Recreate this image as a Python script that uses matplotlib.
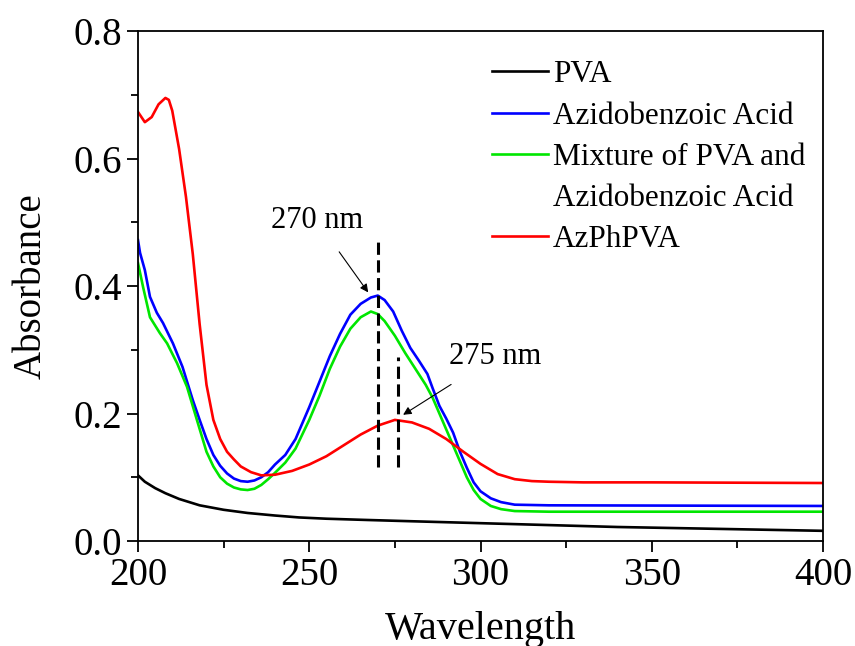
import matplotlib
matplotlib.use("Agg")
import matplotlib.pyplot as plt
from matplotlib.lines import Line2D
from matplotlib.ticker import MultipleLocator

plt.rcParams['font.family'] = ['Liberation Serif', 'DejaVu Serif']

# spectra (wavelength nm, absorbance)
pva_x = [200, 202, 205, 208, 212, 218, 225, 232, 240, 247, 255, 267, 280, 300, 320, 340, 360, 380, 400]
pva_y = [0.103, 0.093, 0.083, 0.075, 0.066, 0.056, 0.049, 0.044, 0.040, 0.037, 0.035, 0.033, 0.031,
         0.028, 0.025, 0.022, 0.020, 0.018, 0.016]

azb_x = [200, 200.6, 202, 203.5, 205.5, 207.3, 210.2, 213, 216, 218, 220, 222, 224, 226, 228, 230,
         232, 234, 236, 238, 240, 243, 246, 250, 253, 256, 259, 262, 265, 268, 270, 272, 274.5, 277,
         279.5, 282, 284.5, 286, 288, 290, 292, 294, 296, 298, 300, 303, 306, 310, 320, 400]
azb_y = [0.472, 0.452, 0.425, 0.383, 0.358, 0.342, 0.310, 0.273, 0.221, 0.19, 0.16, 0.135, 0.118,
         0.106, 0.098, 0.094, 0.093, 0.095, 0.100, 0.108, 0.120, 0.135, 0.160, 0.210, 0.250, 0.290,
         0.325, 0.355, 0.372, 0.382, 0.385, 0.378, 0.360, 0.330, 0.303, 0.283, 0.262, 0.240, 0.212,
         0.192, 0.170, 0.140, 0.115, 0.092, 0.078, 0.067, 0.061, 0.057, 0.056, 0.055]

mix_x = [200, 201.5, 203.5, 206.4, 208.5, 211.4, 214.3, 217.2, 220, 222, 224, 226, 228, 230, 232,
         234, 236, 238, 240, 243, 246, 250, 253, 256, 259, 262, 265, 268, 270, 272, 275, 278, 281,
         284, 286, 288, 290, 292, 294, 296, 298, 300, 303, 306, 310, 320, 400]
mix_y = [0.436, 0.398, 0.351, 0.326, 0.310, 0.279, 0.242, 0.190, 0.14, 0.117, 0.100, 0.090, 0.084,
         0.081, 0.080, 0.082, 0.088, 0.097, 0.107, 0.123, 0.145, 0.190, 0.228, 0.270, 0.305, 0.333,
         0.351, 0.360, 0.356, 0.345, 0.322, 0.295, 0.270, 0.245, 0.225, 0.200, 0.175, 0.150, 0.125,
         0.100, 0.080, 0.066, 0.055, 0.050, 0.047, 0.046, 0.046]

azp_x = [200, 202, 204, 206, 208, 209, 210, 212, 214, 216, 218, 220, 222, 224, 226, 228, 230, 233,
         236, 240, 245, 250, 255, 260, 265, 270, 275, 280, 285, 290, 295, 300, 305, 310, 315, 320,
         330, 350, 400]
azp_y = [0.673, 0.657, 0.665, 0.685, 0.695, 0.692, 0.675, 0.615, 0.54, 0.45, 0.34, 0.245, 0.19, 0.16,
         0.14, 0.128, 0.117, 0.108, 0.103, 0.104, 0.110, 0.120, 0.133, 0.150, 0.167, 0.181, 0.190,
         0.186, 0.176, 0.160, 0.140, 0.121, 0.105, 0.097, 0.094, 0.093, 0.092, 0.092, 0.091]

labels = ['PVA', 'Azidobenzoic Acid', 'Mixture of PVA and', 'AzPhPVA']
mix_second_line = 'Azidobenzoic Acid'
colors = ['black', '#0000ff', '#00e600', '#ff0000']

peak_x = [270, 276]
peak_top = [0.477, 0.289]
peak_bottom = 0.116

fig = plt.figure(figsize=(8.55, 6.46), dpi=100)
ax = fig.add_axes([0.1614, 0.1625, 0.8012, 0.7895])

lines = []
for xs, ys, lab, c in zip([pva_x, azb_x, mix_x, azp_x], [pva_y, azb_y, mix_y, azp_y], labels, colors):
    ln, = ax.plot(xs, ys, color=c, lw=1.9, label=lab)
    lines.append(ln)

for px, pt in zip(peak_x, peak_top):
    ax.plot([px, px], [peak_bottom, pt], color='black', lw=2.2, ls=(0, (4, 1.8)))

ax.annotate('270 nm', xy=(267.2, 0.39), xytext=(252.3, 0.502), ha='center', va='center', fontsize=22,
            arrowprops=dict(arrowstyle='-|>', color='black', lw=0.8, shrinkA=12, shrinkB=0,
                            mutation_scale=12))
ax.annotate('275 nm', xy=(277.4, 0.198), xytext=(304.2, 0.289), ha='center', va='center', fontsize=22,
            arrowprops=dict(arrowstyle='-|>', color='black', lw=0.8, shrinkA=14, shrinkB=0,
                            mutation_scale=12))

ax.set_xlim(200, 400)
ax.set_ylim(0, 0.8)
ax.xaxis.set_major_locator(MultipleLocator(50))
ax.xaxis.set_minor_locator(MultipleLocator(25))
ax.yaxis.set_major_locator(MultipleLocator(0.2))
ax.yaxis.set_minor_locator(MultipleLocator(0.1))
ax.yaxis.set_major_formatter(plt.FuncFormatter(lambda v, p: f'{v:.1f}'))
ax.tick_params(which='both', direction='out', top=False, right=False, labelsize=28, width=1.3)
ax.tick_params(which='major', length=8)
ax.tick_params(which='minor', length=5)
for s in ax.spines.values():
    s.set_linewidth(1.3)

ax.set_xlabel('Wavelength', fontsize=29, labelpad=12)
ax.set_ylabel('Absorbance', fontsize=28, labelpad=17)

blank = Line2D([], [], color='none')
handles = [lines[0], lines[1], lines[2], blank, lines[3]]
leg_labels = [labels[0], labels[1], labels[2], mix_second_line, labels[3]]
ax.legend(handles, leg_labels, loc='upper left', bbox_to_anchor=(0.498, 0.967), frameon=False,
          fontsize=22.5, handlelength=1.8, handletextpad=0.16, labelspacing=0.39, borderaxespad=0)

fig.savefig('out.png', dpi=100)
